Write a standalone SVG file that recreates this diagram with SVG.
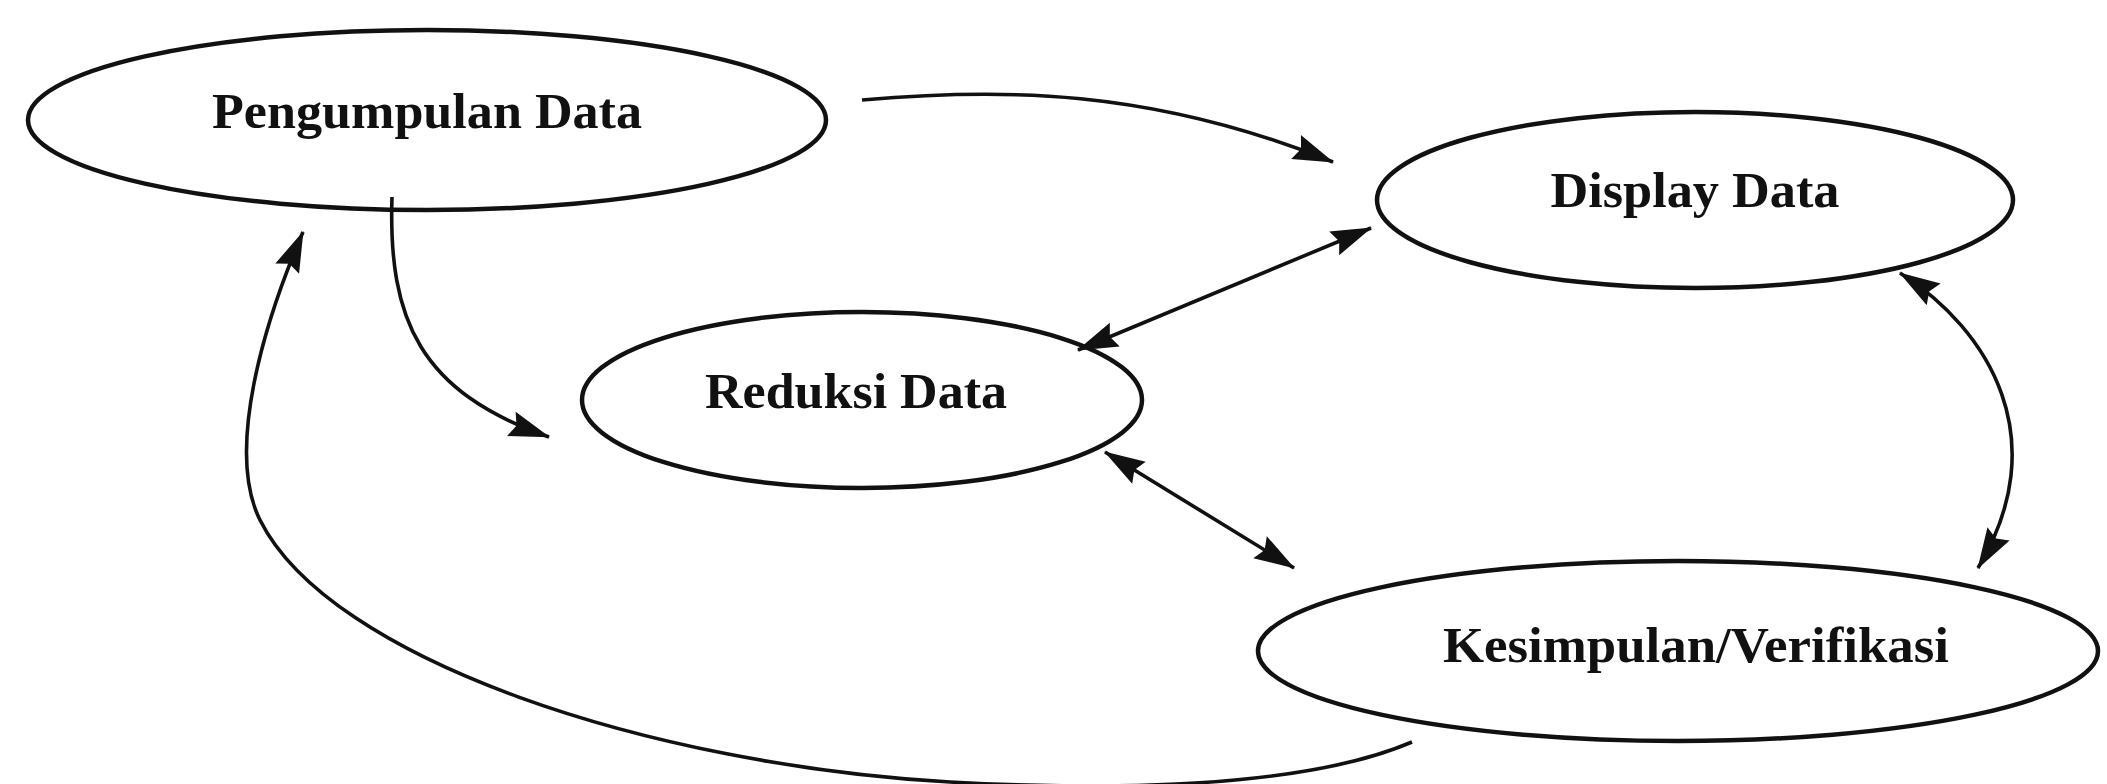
<svg xmlns="http://www.w3.org/2000/svg" width="2107" height="784" viewBox="0 0 2107 784">
<style>
.node ellipse{fill:#fff;stroke:#111;stroke-width:4.5}
.node text{font-family:"Liberation Serif","Times New Roman",serif;font-weight:bold;font-size:50px;fill:#111;text-anchor:middle}
.conn path,.conn line{fill:none;stroke:#111;stroke-width:3.6}
</style>
<defs>
<marker id="ah" markerUnits="userSpaceOnUse" markerWidth="42" markerHeight="28" viewBox="0 0 38 26" refX="37" refY="13" orient="auto-start-reverse">
<path d="M0,1 L38,13 L0,25 L5,13 z" fill="#111"/>
</marker>
</defs>
<rect width="2107" height="784" fill="#fff"/>
<g id="n-pengumpulan" class="node">
<ellipse cx="427" cy="120" rx="399" ry="90"/>
<text x="427" y="128" textLength="430" lengthAdjust="spacingAndGlyphs">Pengumpulan Data</text>
</g>
<g id="n-display" class="node">
<ellipse cx="1695" cy="200" rx="318" ry="88"/>
<text x="1695" y="207" textLength="289" lengthAdjust="spacingAndGlyphs">Display Data</text>
</g>
<g id="n-reduksi" class="node">
<ellipse cx="862" cy="400" rx="280" ry="88"/>
<text x="856" y="408" textLength="302" lengthAdjust="spacingAndGlyphs">Reduksi Data</text>
</g>
<g id="n-kesimpulan" class="node">
<ellipse cx="1678" cy="651" rx="420" ry="90"/>
<text x="1696" y="662" textLength="506" lengthAdjust="spacingAndGlyphs">Kesimpulan/Verifikasi</text>
</g>
<g id="connectors" class="conn">
<path d="M862,100 C1000,88 1150,88 1333,162" marker-end="url(#ah)"/>
<path d="M392,197 C388,320 420,392 549,437" marker-end="url(#ah)"/>
<line x1="1078" y1="350" x2="1371" y2="228" marker-start="url(#ah)" marker-end="url(#ah)"/>
<line x1="1105" y1="452" x2="1294" y2="568" marker-start="url(#ah)" marker-end="url(#ah)"/>
<path d="M1900,273 C1990,330 2055,440 1978,568" marker-start="url(#ah)" marker-end="url(#ah)"/>
<path d="M1412,742 C1300,790 1100,790 950,782 C650,765 330,660 260,520 C225,450 265,320 303,232" marker-end="url(#ah)"/>
</g>
</svg>
